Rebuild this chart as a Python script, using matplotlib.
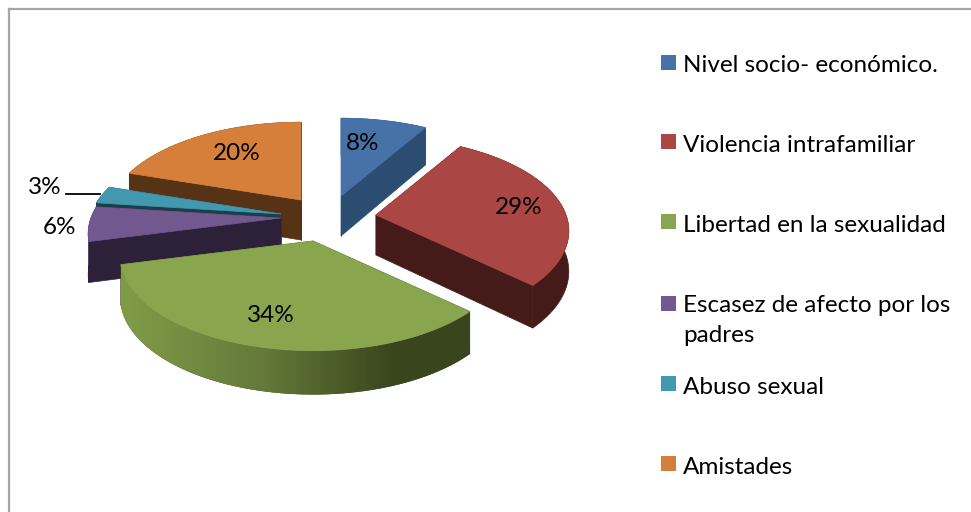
import matplotlib
matplotlib.use('Agg')
import matplotlib.pyplot as plt
from matplotlib.colors import LinearSegmentedColormap
from matplotlib.patches import Polygon, Rectangle
import numpy as np

# Data
categories = ['Nivel socio- económico.', 'Violencia intrafamiliar', 'Libertad en la sexualidad',
              'Escasez de afecto por los\npadres', 'Abuso sexual', 'Amistades']
values = [8.5, 28.5, 34, 6, 3, 20]
labels = ['8%', '29%', '34%', '6%', '3%', '20%']

# Colours
top_colors = ['#4672A8', '#AA4643', '#89A54E', '#71588F', '#4198AF', '#D67F3A']
side_colors = ['#2C4D72', '#441B18', '#39451C', '#2D2139', '#1B3E49', '#573316']

# Layout, in reference pixels
apex = [(341, 196), (376, 215), (313, 241), (281, 218), (281, 214), (301, 200)]
label_pos = [(363, 143.5), (519, 207.5), (271, 315.5), (60, 227.5), (45, 187.5), (237, 153.5)]
legend_y = [66, 145, 225, 307, 387, 467]
draw_order = [5, 4, 3, 0, 1, 2]
RX, RY, PERSP, DEPTH = 190, 91, 0.17, 40


def project(angle):
    # angle is clockwise from 12 o'clock, the far side of the disc gets smaller
    u = np.sin(angle)
    v = np.cos(angle)
    w = 1 + PERSP * v
    return RX * u / w, -RY * v / w, DEPTH / np.sqrt(w)


fig = plt.figure(figsize=(9.71, 5.12), dpi=100)
ax = fig.add_axes([0, 0, 1, 1])
ax.axis('off')

# chart border
ax.plot([9, 9], [512, 8.5], color='#A6A6A6', linewidth=1.6)
ax.plot([9, 971], [8.5, 8.5], color='#A6A6A6', linewidth=1.6)

edges = np.radians(np.cumsum([0] + values) / sum(values) * 360)
green_wall = LinearSegmentedColormap.from_list('green_wall', ['#7F9A47', '#64793A', '#39451C'])

# back slices first, green sits on top of everything
for z, i in enumerate(draw_order):
    cx, cy = apex[i]
    angles = np.linspace(edges[i], edges[i + 1], 120)
    x, y, d = project(angles)
    x = x + cx
    y = y + cy

    # cut faces
    for k in [0, -1]:
        ax.add_patch(Polygon([(cx, cy), (x[k], y[k]), (x[k], y[k] + d[k]), (cx, cy + DEPTH)],
                             closed=True, facecolor=side_colors[i], edgecolor=side_colors[i],
                             linewidth=0.5, zorder=1 + z))

    # outer wall, the green one fades from olive to dark
    wall = np.vstack([np.column_stack([x, y]), np.column_stack([x, y + d])[::-1]])
    patch = Polygon(wall, closed=True, facecolor=side_colors[i], edgecolor=side_colors[i],
                    linewidth=0.5, zorder=1 + z)
    ax.add_patch(patch)
    if i == 2:
        patch.set_edgecolor('none')
        grad = np.clip((np.linspace(x.min(), x.max(), 300) - x.min() - 10) / 265, 0, 1)
        im = ax.imshow(grad[np.newaxis, :], cmap=green_wall, vmin=0, vmax=1, aspect='auto',
                       extent=[x.min(), x.max(), (y + d).max(), y.min()], zorder=1.2 + z)
        im.set_clip_path(patch)

    # top face
    ax.add_patch(Polygon(np.column_stack([np.r_[cx, x], np.r_[cy, y]]), closed=True,
                         facecolor=top_colors[i], edgecolor=top_colors[i], linewidth=0.5,
                         zorder=1.5 + z))

ax.set_xlim(0, 971)
ax.set_ylim(512, 0)

# value labels and the leader line of the 3%
for lab, (px, py) in zip(labels, label_pos):
    ax.text(px, py, lab, ha='center', va='center', fontsize=17.5, family='Lato', color='black', zorder=20)
ax.plot([66, 100], [193.5, 193.5], color='black', linewidth=1.3, zorder=20)

# legend
for cat, col, ly in zip(categories, top_colors, legend_y):
    ax.add_patch(Rectangle((661, ly - 11), 15, 15, facecolor=col, edgecolor='none'))
    if '\n' in cat:
        ax.text(683, ly - 12, cat, ha='left', va='top', fontsize=17.5, family='Lato',
                color='black', linespacing=1.55)
    else:
        ax.text(683, ly, cat, ha='left', va='center', fontsize=17.5, family='Lato', color='black')

fig.savefig('out.png', dpi=100)
